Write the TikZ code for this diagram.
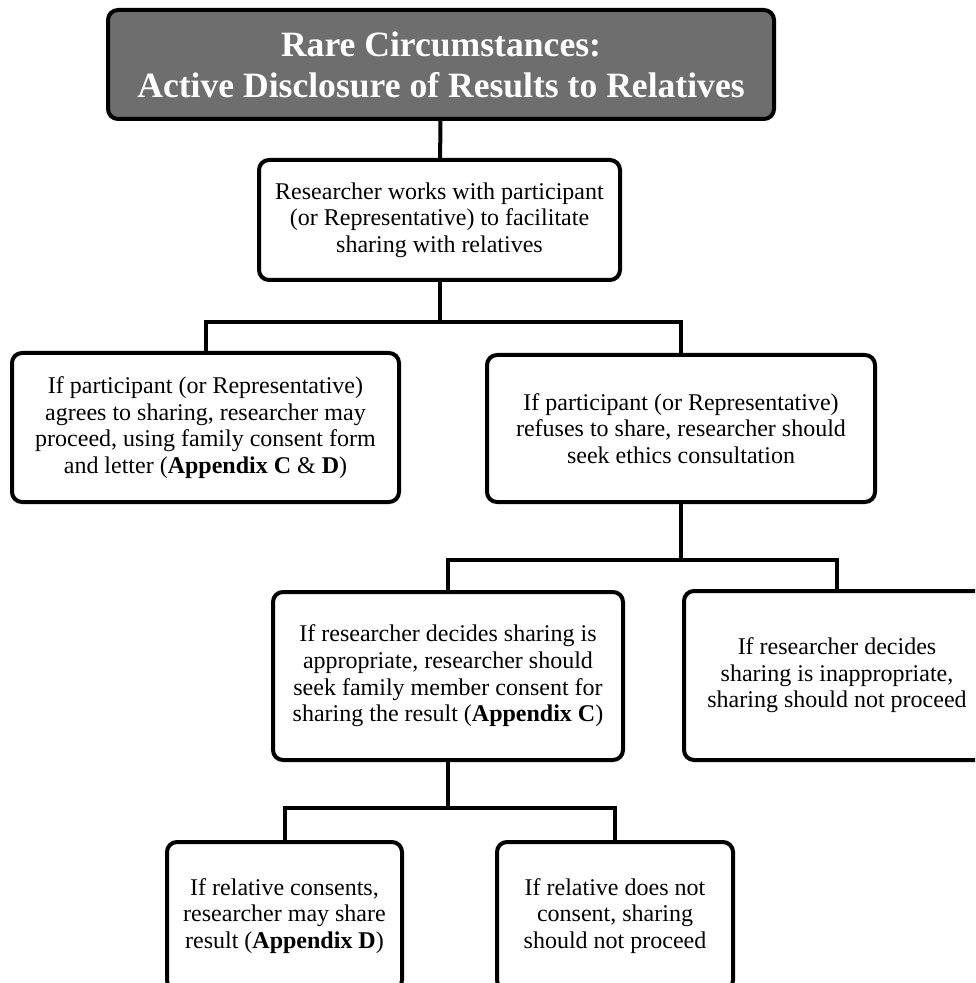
\documentclass[tikz,border=0pt]{standalone}
\usepackage{fontspec}
\setmainfont{Liberation Serif}
\usetikzlibrary{positioning}
\definecolor{titlegray}{RGB}{110,110,110}
\tikzset{
  box/.style={draw, line width=2pt, rounded corners=5pt, align=center, inner sep=0pt,
    font=\fontsize{12}{13.3}\selectfont},
  titlebox/.style={box, fill=titlegray, text=white, font=\fontsize{17.8}{20.5}\selectfont\bfseries},
  link/.style={line width=2pt}
}
\begin{document}
\begin{tikzpicture}[x=0.5pt, y=-0.5pt]
\useasboundingbox (0,0) rectangle (975,983);
\clip (0,0) rectangle (975,983);

\node[titlebox, minimum width=333pt, minimum height=54.5pt] (title) at (441, 64.5)
  {Rare Circumstances:\\Active Disclosure of Results to Relatives};
\node[box, minimum width=180.5pt, minimum height=60pt] (works) at (439.5, 220)
  {Researcher works with participant\\(or Representative) to facilitate\\sharing with relatives};
\node[box, minimum width=193.5pt, minimum height=74.5pt] (agrees) at (205.5, 427.5)
  {If participant (or Representative)\\agrees to sharing, researcher may\\proceed, using family consent form\\and letter (\textbf{Appendix C} \& \textbf{D})};
\node[box, minimum width=194pt, minimum height=73.5pt] (refuses) at (681, 428.5)
  {If participant (or Representative)\\refuses to share, researcher should\\seek ethics consultation};
\node[box, minimum width=175pt, minimum height=84pt] (approp) at (448, 676)
  {If researcher decides sharing is\\appropriate, researcher should\\seek family member consent for\\sharing the result (\textbf{Appendix C})};
\node[box, minimum width=153pt, minimum height=84.5pt] (inapprop) at (837, 675.5)
  {If researcher decides\\sharing is inappropriate,\\sharing should not proceed};
\node[box, minimum width=117.5pt, minimum height=74pt] (consents) at (284.5, 916)
  {If relative consents,\\researcher may share\\result (\textbf{Appendix D})};
\node[box, minimum width=118pt, minimum height=74pt] (noconsent) at (615, 916)
  {If relative does not\\consent, sharing\\should not proceed};

\coordinate (j1) at (439.5, 322);
\coordinate (j2) at (681, 560);
\coordinate (j3) at (448, 808);

\draw[link] (title) -- (works);
\draw[link] (works.south) -- (j1);
\draw[link] (agrees.north) |- (j1) -| (refuses.north);
\draw[link] (refuses.south) -- (j2);
\draw[link] (approp.north) |- (j2) -| (inapprop.north);
\draw[link] (approp.south) -- (j3);
\draw[link] (consents.north) |- (j3) -| (noconsent.north);

\end{tikzpicture}
\end{document}
